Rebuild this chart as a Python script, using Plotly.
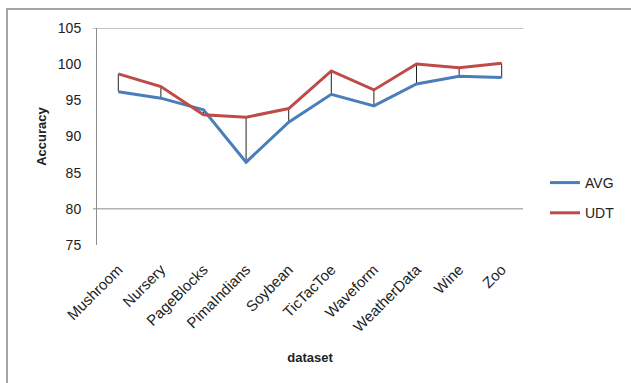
import plotly.graph_objects as go

categories = ["Mushroom", "Nursery", "PageBlocks", "PimaIndians", "Soybean",
              "TicTacToe", "Waveform", "WeatherData", "Wine", "Zoo"]
avg = [96.2, 95.3, 93.7, 86.45, 91.97, 95.84, 94.23, 97.27, 98.33, 98.14]
udt = [98.65, 96.9, 93.0, 92.66, 93.86, 99.06, 96.44, 100.03, 99.52, 100.12]
y_ticks = [75, 80, 85, 90, 95, 100, 105]

W, H = 631, 383
L, R, T, B = 97, 108, 28, 138
pw, ph = W - L - R, H - T - B

def px(x):
    return (x - L) / pw

def py(y):
    return (H - B - y) / ph

# high-low lines between the two series
hx, hy = [], []
for c, a, u in zip(categories, avg, udt):
    hx += [c, c, None]
    hy += [a, u, None]

fig = go.Figure()
fig.add_trace(go.Scatter(x=hx, y=hy, mode="lines", line=dict(color="#222222", width=1),
                         showlegend=False, hoverinfo="skip"))
fig.add_trace(go.Scatter(x=categories, y=avg, mode="lines", name="AVG", legendgroup="a",
                         line=dict(color="#4A7EBB", width=3)))
fig.add_trace(go.Scatter(x=categories, y=udt, mode="lines", name="UDT", legendgroup="b",
                         line=dict(color="#BE4B48", width=3)))

shapes = [
    dict(type="rect", xref="paper", yref="paper", x0=px(7), x1=px(645), y0=py(400), y1=py(9),
         line=dict(color="#888888", width=1.5), layer="below"),
]
for g in [80, 105]:
    shapes.append(dict(type="line", xref="paper", yref="y", x0=px(93), x1=1, y0=g, y1=g,
                       line=dict(color="#8c8c8c", width=1)))

fig.update_layout(
    width=W, height=H,
    margin=dict(l=L, r=R, t=T, b=B, autoexpand=False),
    paper_bgcolor="white", plot_bgcolor="white",
    font=dict(family="Liberation Sans, Arial, sans-serif", size=14, color="#222222"),
    shapes=shapes,
    showlegend=True,
    legend=dict(x=px(545), y=py(167), xanchor="left", yanchor="top",
                font=dict(size=14, color="#222222"), tracegroupgap=9,
                traceorder="grouped", bgcolor="rgba(0,0,0,0)"),
    xaxis=dict(type="category", range=[-0.5, 9.5], tickangle=-45, showgrid=False,
               showline=False, ticks="", tickfont=dict(size=15), automargin=False,
               ticklabelstandoff=12,
               title=dict(text="<b>dataset</b>", font=dict(size=13), standoff=18)),
    yaxis=dict(range=[75, 105], tickvals=y_ticks, showgrid=False, zeroline=False,
               showline=True, linecolor="#8c8c8c", linewidth=1, ticks="",
               tickfont=dict(size=14), ticklabelstandoff=12, automargin=False,
               title=dict(text="<b>Accuracy</b>", font=dict(size=13), standoff=8)),
)

fig.write_html("out.html", config={"displayModeBar": False},
               post_script="document.body.style.margin='0';")
